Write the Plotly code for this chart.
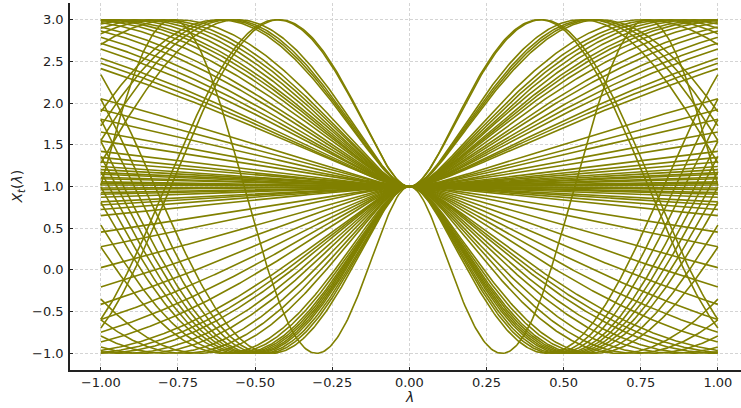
import numpy as np
import plotly.graph_objects as go

# Per-curve phase rates (positive: curve rises first, negative: falls first)
rates_up = [4.5, 4.4, 3.25, 3.1, 3.0, 2.9,
            2.3, 2.15, 2.05, 1.95, 1.85,
            1.75, 1.68, 1.6, 1.5,
            1.38, 1.3, 1.2, 1.12, 1.05, 0.95, 0.9, 0.85,
            0.6, 0.52, 0.45, 0.36, 0.3,
            0.23, 0.19, 0.16, 0.13, 0.11, 0.09, 0.08, 0.06, 0.05, 0.03, 0.02, 0.01]
rates_down = [-6.8, -4.2, -4.0, -3.85, -3.7, -3.6, -3.5, -3.4, -3.3, -3.15, -3.0,
              -2.6, -2.4, -2.2, -2.0, -1.85,
              -1.7, -1.6, -1.5,
              -1.3, -1.15, -1.0, -0.85, -0.7, -0.55, -0.4, -0.3,
              -0.19, -0.15, -0.12, -0.1, -0.07, -0.05, -0.04, -0.02, -0.01]
bend = 0.08
x_ticks = [-1.0, -0.75, -0.5, -0.25, 0.0, 0.25, 0.5, 0.75, 1.0]
y_ticks = [-1.0, -0.5, 0.0, 0.5, 1.0, 1.5, 2.0, 2.5, 3.0]

lam = np.linspace(-1, 1, 401)
shape = np.sqrt(lam ** 2 + bend ** 2) - bend

fig = go.Figure()
for c in rates_up + rates_down:
    fig.add_trace(go.Scatter(x=lam, y=1 + 2 * np.sin(c * shape), mode="lines",
                             line=dict(color="#808000", width=1.6),
                             showlegend=False, hoverinfo="skip"))

axis_common = dict(showgrid=True, gridcolor="#d4d4d4", griddash="3px,2px", gridwidth=0.8,
                   zeroline=False, showline=True, linecolor="#222222", linewidth=1.5,
                   ticks="inside", ticklen=3, tickcolor="#222222", automargin=False,
                   tickfont=dict(family="DejaVu Sans", size=13, color="#222222"))

fig.update_layout(
    width=741, height=408,
    margin=dict(l=70, r=0, t=3, b=38),
    plot_bgcolor="white", paper_bgcolor="white",
    xaxis=dict(range=[-1.1, 1.075], tickvals=x_ticks, tickformat=".2f", **axis_common),
    yaxis=dict(range=[-1.2, 3.2], tickvals=y_ticks, tickformat=".1f",
               ticklabelstandoff=2, **axis_common),
    annotations=[
        dict(text="<i>λ</i>", x=0, xref="x", y=-0.074, yref="paper",
             xanchor="center", yanchor="middle",
             showarrow=False, font=dict(family="DejaVu Sans", size=14, color="#222222")),
        dict(text="<i>X</i><sub><i>t</i></sub>(<i>λ</i>)", x=-0.0775, xref="paper",
             y=1.0, yref="y", textangle=-90, xanchor="center", yanchor="middle",
             showarrow=False,
             font=dict(family="DejaVu Sans", size=14, color="#222222")),
    ],
)

fig.write_html("out.html", config={"displayModeBar": False},
               post_script="document.body.style.margin='0';document.body.style.overflow='hidden';")
